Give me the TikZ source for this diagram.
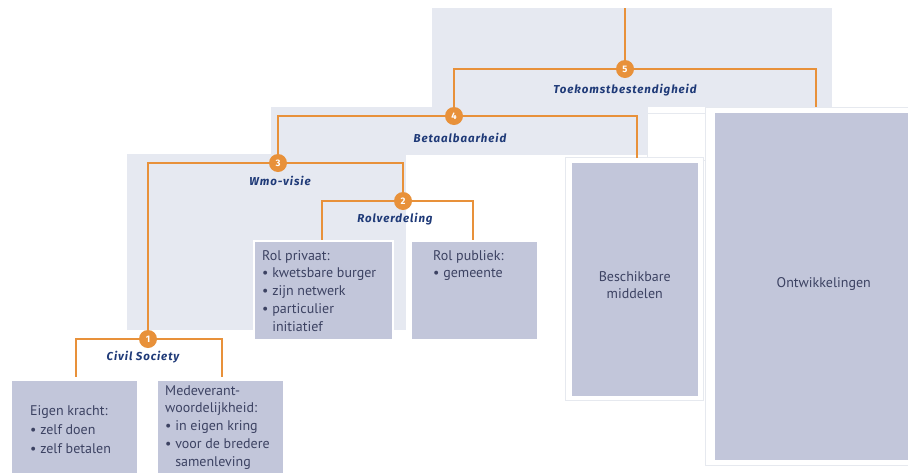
\documentclass[tikz,border=0pt]{standalone}
\usepackage{fontspec}
\setmainfont{PT Sans}
\newfontfamily\headfont[LetterSpace=8]{Fira Sans}
\usepackage{xcolor}
\usepackage{tikz}
\usetikzlibrary{calc}
\definecolor{panel}{HTML}{E6E9F1}
\definecolor{boxfill}{HTML}{C2C6DA}
\definecolor{frame}{HTML}{E6E9EF}
\definecolor{orange}{HTML}{E8913A}
\definecolor{head}{HTML}{1F3A78}
\definecolor{body}{HTML}{3C4262}
\tikzset{
  link/.style={draw=orange, line width=1.6pt},
  num/.style={circle, fill=orange, text=white, inner sep=0pt, minimum size=18pt,
    font=\headfont\bfseries\fontsize{9.5}{9.5}\selectfont},
  heading/.style={text=head, font=\headfont\bfseries\itshape\fontsize{11.5}{13}\selectfont},
  box/.style={fill=boxfill, draw=white, line width=1.5pt, inner sep=0pt, anchor=north west},
  wframe/.style={fill=white, draw=frame, line width=0.8pt},
  txt/.style={text=body, align=left, inner sep=0pt, anchor=north west,
    font=\fontsize{14}{17.8}\selectfont},
  ctxt/.style={text=body, align=center, font=\fontsize{14}{16.5}\selectfont}
}
\begin{document}
\begin{tikzpicture}[x=1pt, y=-1pt]
  \useasboundingbox[fill=white] (0,0) rectangle (908,472);

  % light panels
  \fill[panel] (432,8) rectangle (832,107);
  \fill[panel] (271,107) rectangle (648,155);
  \fill[panel] (127,154) rectangle (406,330);

  % white frames on the right
  \draw[wframe] (647,113) rectangle (706,160);
  \draw[wframe] (705,107) rectangle (930,465);
  \draw[wframe] (565,157) rectangle (703,400);

  % boxes
  \node[box, minimum width=139pt, minimum height=99pt] (privaat) at (253,240) {};
  \node[box, minimum width=127pt, minimum height=99pt] (publiek) at (410,240) {};
  \node[box, minimum width=127pt, minimum height=110pt] (eigen) at (10,379) {};
  \node[box, minimum width=127pt, minimum height=110pt] (mede) at (156,379) {};
  \node[box, minimum width=128pt, minimum height=235pt] (middelen) at (570,161) {};
  \node[box, minimum width=220pt, minimum height=349pt] (ontw) at (713,111) {};

  % box texts
  \node[txt] (privaattxt) at ([shift={(9,10)}]privaat.north west)
    {Rol privaat:\\ \textbullet\ kwetsbare burger\\ \textbullet\ zijn netwerk\\
     \textbullet\ particulier\\ \phantom{\textbullet\ }initiatief};
  \node[txt] (publiektxt) at ([shift={(23,10)}]publiek.north west)
    {Rol publiek:\\ \textbullet\ gemeente};
  \node[txt, font=\fontsize{14}{19}\selectfont] (eigentxt) at ([shift={(20,26)}]eigen.north west)
    {Eigen kracht:\\ \textbullet\ zelf doen\\ \textbullet\ zelf betalen};
  \node[txt, font=\fontsize{14}{17.8}\selectfont] (medetxt) at ([shift={(9,6)}]mede.north west)
    {Medeverant-\\ woordelijkheid:\\ \textbullet\ in eigen kring\\
     \textbullet\ voor de bredere\\ \phantom{\textbullet\ }samenleving};
  \node[ctxt] (middelentxt) at ([yshift=-6]middelen.center) {Beschikbare\\ middelen};
  \node[ctxt] (ontwtxt) at ([yshift=2]ontw.center) {Ontwikkelingen};

  % numbered points
  \node[num] (n5) at (625,69) {5};
  \node[num] (n4) at (454,116) {4};
  \node[num] (n3) at (278,163) {3};
  \node[num] (n2) at (403,201) {2};
  \node[num] (n1) at (148,339) {1};

  \coordinate (top) at (625,8);
  \coordinate (c5r) at (816,107);
  \coordinate (c4r) at (637,158);
  \coordinate (c2l) at (322,240);
  \coordinate (c2r) at (473,240);
  \coordinate (c1l) at (76,377);
  \coordinate (c1r) at (222,377);

  % brackets
  \draw[link] (top) -- (n5);
  \draw[link] (n5) -| (n4);
  \draw[link] (n5) -| (c5r);
  \draw[link] (n4) -| (n3);
  \draw[link] (n4) -| (c4r);
  \draw[link] (n3) -| (n1);
  \draw[link] (n3) -| (n2);
  \draw[link] (n2) -| (c2l);
  \draw[link] (n2) -| (c2r);
  \draw[link] (n1) -| (c1l);
  \draw[link] (n1) -| (c1r);

  % headings
  \node[heading] (toekomst) at (625,90) {Toekomstbestendigheid};
  \node[heading] (betaal) at (460,138) {Betaalbaarheid};
  \node[heading] (wmo) at (280,181) {Wmo-visie};
  \node[heading] (rol) at (395,219) {Rolverdeling};
  \node[heading] (civil) at (143,357) {Civil Society};
\end{tikzpicture}
\end{document}
